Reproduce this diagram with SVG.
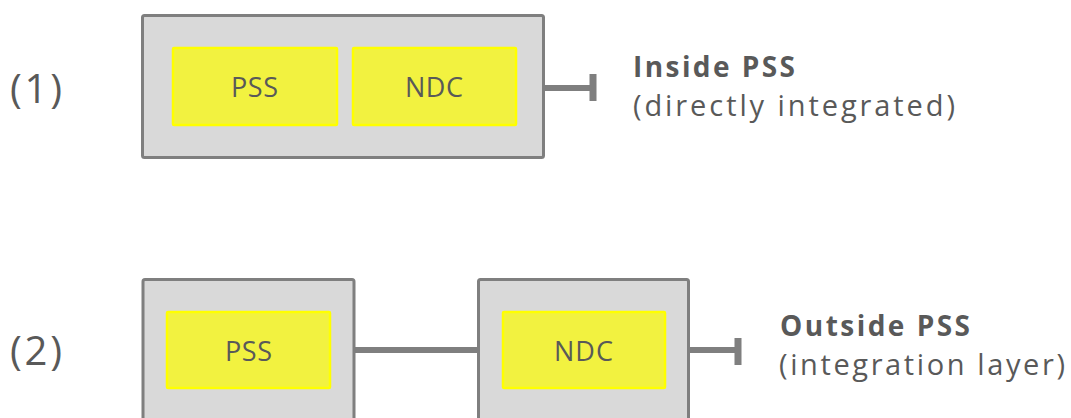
<svg xmlns="http://www.w3.org/2000/svg" width="1071" height="418" viewBox="0 0 1071 418">
<style>
.outer{fill:#d9d9d9;stroke:#7f7f7f;stroke-width:3}
.inner{fill:#f2f240;stroke:#ffff00;stroke-width:2.5}
.lbl{font-family:"Open Sans","DejaVu Sans",sans-serif;font-size:27px;fill:#595959}
.num{font-family:"Open Sans","DejaVu Sans",sans-serif;font-size:40px;fill:#595959}
.head{font-family:"Open Sans","DejaVu Sans",sans-serif;font-size:28px;font-weight:bold;fill:#595959}
.sub{font-family:"Open Sans","DejaVu Sans",sans-serif;font-size:29px;fill:#595959}
.conn{stroke:#7f7f7f;stroke-width:6;fill:none}
.bar{fill:#7f7f7f}
</style>
<g id="connectors">
<line class="conn" x1="545" y1="88" x2="592" y2="88"/>
<rect class="bar" x="589.5" y="74" width="7" height="27"/>
<line class="conn" x1="355" y1="350" x2="477" y2="350"/>
<line class="conn" x1="690" y1="350" x2="737" y2="350"/>
<rect class="bar" x="734.5" y="338" width="7" height="27"/>
</g>
<g id="row1">
<rect class="outer" x="142.5" y="15.5" width="401" height="142" rx="2"/>
<g id="pss1">
<rect class="inner" x="173" y="48" width="164" height="77" rx="1"/>
<text class="lbl" x="231" y="97" textLength="47" lengthAdjust="spacing">PSS</text>
</g>
<g id="ndc1">
<rect class="inner" x="353" y="48" width="163" height="77" rx="1"/>
<text class="lbl" x="405" y="97" textLength="58" lengthAdjust="spacing">NDC</text>
</g>
</g>
<g id="row2-pss">
<rect class="outer" x="143" y="279.5" width="211" height="200" rx="2"/>
<rect class="inner" x="167" y="312" width="163" height="76" rx="1"/>
<text class="lbl" x="225" y="361" textLength="47" lengthAdjust="spacing">PSS</text>
</g>
<g id="row2-ndc">
<rect class="outer" x="478.5" y="279.5" width="210" height="200" rx="2"/>
<rect class="inner" x="503" y="312" width="162" height="76" rx="1"/>
<text class="lbl" x="554" y="361" textLength="59" lengthAdjust="spacing">NDC</text>
</g>
<g id="labels">
<text class="num" x="10" y="103" textLength="52" lengthAdjust="spacing">(1)</text>
<text class="num" x="10" y="365" textLength="52" lengthAdjust="spacing">(2)</text>
<text class="head" x="633" y="77" textLength="162" lengthAdjust="spacing">Inside PSS</text>
<text class="sub" x="633" y="116" textLength="322" lengthAdjust="spacing">(directly integrated)</text>
<text class="head" x="780" y="336" textLength="190" lengthAdjust="spacing">Outside PSS</text>
<text class="sub" x="779" y="375" textLength="286" lengthAdjust="spacing">(integration layer)</text>
</g>
</svg>
